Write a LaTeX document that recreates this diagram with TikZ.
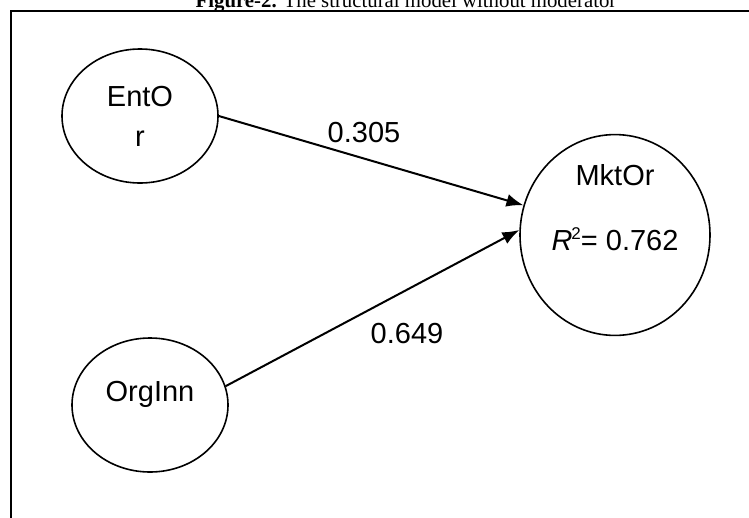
\documentclass[tikz,border=0pt]{standalone}
\usepackage{fontspec}
\setmainfont{Liberation Serif}
\newfontfamily\arialfont{Liberation Sans}
\usepackage{tikz}
\usetikzlibrary{shapes.geometric}
\usetikzlibrary{arrows.meta}
\newcommand{\bigsans}{\arialfont\fontsize{29}{40}\selectfont}
\newcommand{\rsquared}{{\itshape R}\kern-1pt\raisebox{11pt}{\fontsize{17}{17}\selectfont 2}}
\tikzset{
    construct/.style={draw, ellipse, line width=1.6pt, inner sep=0pt, align=center, font=\bigsans},
    small-construct/.style={construct, minimum width=156pt, minimum height=134pt},
    big-construct/.style={construct, minimum width=190pt, minimum height=166pt},
    effect/.style={-{Latex[length=17pt,width=13pt]}, line width=2pt},
    coef/.style={font=\bigsans, inner sep=0pt},
    frame/.style={line width=2pt}
}

\begin{document}
\begin{tikzpicture}[x=1pt,y=-1pt]
    \useasboundingbox (0,0) rectangle (749,517);

    \node[anchor=base, font=\fontsize{20.8}{24}\selectfont] (title) at (406,7)
        {\textbf{Figure-2.} The structural model without moderator};
    \draw[frame] (11,540) -- (11,11) -- (770,11);

    \node[small-construct] (entor) at (140,116) {EntO\\r};
    \node[small-construct, text depth=28pt] (orginn) at (150,405) {OrgInn};
    \node[big-construct, text depth=56pt] (mktor) at (615,235)
        {MktOr\\[25pt]\rsquared= 0.762};

    \draw[effect] (entor.east) -- (mktor.162);
    \draw[effect] (orginn.14) -- (mktor.177);

    \node[coef] (coef-entor) at (364,133) {0.305};
    \node[coef] (coef-orginn) at (407,334) {0.649};
\end{tikzpicture}
\end{document}
